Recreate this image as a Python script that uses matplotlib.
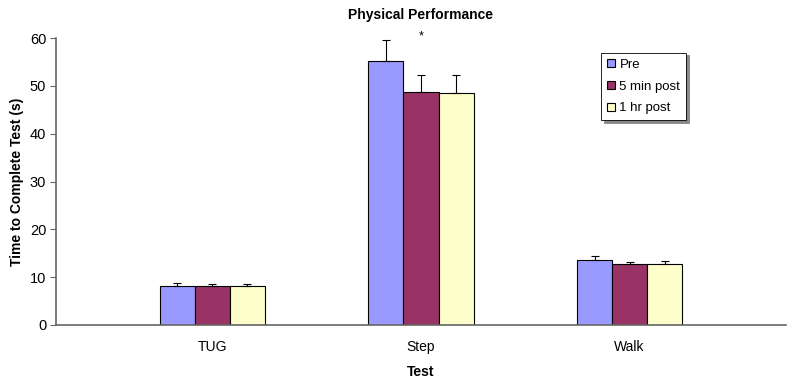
import numpy as np
from matplotlib import pyplot as plt

plt.rcParams['font.family'] = ['Liberation Sans', 'DejaVu Sans']

tests = ["TUG", "Step", "Walk"]
series = ["Pre", "5 min post", "1 hr post"]
pre = [8.2, 55.2, 13.6]
post5 = [8.2, 48.8, 12.7]
post60 = [8.2, 48.6, 12.7]
pre_err = [0.6, 4.3, 0.9]
post5_err = [0.4, 3.5, 0.4]
post60_err = [0.4, 3.7, 0.6]
colors = ["#9999FF", "#993366", "#FFFFCC"]

fig = plt.figure(figsize=(8, 3.79), dpi=100)
ax = fig.add_axes([0.07, 0.1425, 0.9125, 0.757])

x = np.arange(len(tests))
w = 0.168
values = [pre, post5, post60]
errs = [pre_err, post5_err, post60_err]
for i in range(3):
    ax.bar(x + (i - 1) * w, values[i], w, color=colors[i], edgecolor="black",
           linewidth=0.8, label=series[i], zorder=2)
    ax.errorbar(x + (i - 1) * w, values[i], yerr=[np.zeros(3), errs[i]],
                fmt="none", ecolor="black", elinewidth=0.8, capsize=3,
                capthick=0.8, zorder=3)

ax.text(1, 60.4, "*", ha="center", va="center", fontsize=9)

ax.set_xlim(-0.75, 2.75)
ax.set_ylim(0, 60)
ax.set_yticks(range(0, 61, 10))
ax.set_xticks(x)
ax.set_xticklabels(tests, fontsize=10)
ax.tick_params(axis="x", length=0, pad=11)
ax.tick_params(axis="y", labelsize=10.5, length=4, pad=3, color="#666666")
for s in ["top", "right"]:
    ax.spines[s].set_visible(False)
for s in ["left", "bottom"]:
    ax.spines[s].set_color("#666666")
    ax.spines[s].set_linewidth(1.2)

ax.set_title("Physical Performance", fontsize=10, fontweight="bold", pad=14)
ax.set_ylabel("Time to Complete Test (s)", fontsize=10, fontweight="bold", labelpad=4)
ax.set_xlabel("Test", fontsize=10, fontweight="bold", labelpad=8)

leg = ax.legend(loc="upper left", bbox_to_anchor=(0.7466, 0.949), fontsize=9.5,
                handlelength=0.6, handleheight=0.6, handletextpad=0.35,
                fancybox=False, shadow={"color": "#888888", "alpha": 1},
                edgecolor="black", labelspacing=0.75, borderpad=0.45,
                borderaxespad=0)
leg.get_frame().set_linewidth(0.6)

fig.savefig("out.png", dpi=100)
